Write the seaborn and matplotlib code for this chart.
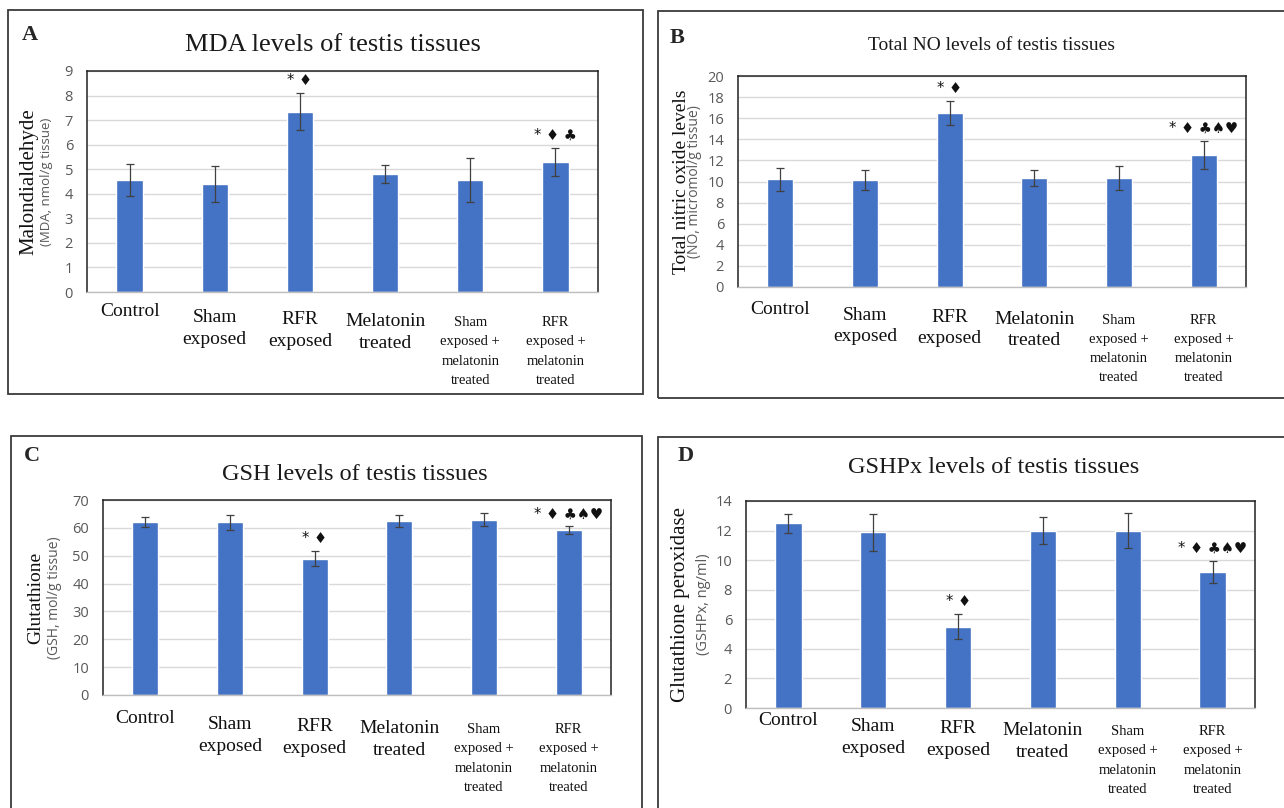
import numpy as np
import pandas as pd
import matplotlib
matplotlib.use("Agg")
import matplotlib.pyplot as plt
import matplotlib.transforms as mtransforms
from matplotlib.patches import Rectangle
import seaborn as sns

# ---------------- data ----------------
groups = ["Control", "Sham\nexposed", "RFR\nexposed", "Melatonin\ntreated",
          "Sham\nexposed +\nmelatonin\ntreated", "RFR\nexposed +\nmelatonin\ntreated"]

mda_mean = [4.55, 4.40, 7.35, 4.80, 4.55, 5.30]
mda_err = [0.65, 0.75, 0.75, 0.38, 0.90, 0.58]
mda_sig = ["", "", "* \u2666", "", "", "* \u2666 \u2663"]

no_mean = [10.2, 10.1, 16.5, 10.3, 10.3, 12.5]
no_err = [1.10, 0.95, 1.10, 0.75, 1.15, 1.35]
no_sig = ["", "", "* \u2666", "", "", "* \u2666 \u2663\u2660\u2665"]

gsh_mean = [62.0, 62.0, 49.0, 62.5, 63.0, 59.2]
gsh_err = [1.8, 2.6, 2.6, 2.2, 2.3, 1.3]
gsh_sig = ["", "", "* \u2666", "", "", "* \u2666 \u2663\u2660\u2665"]

gpx_mean = [12.5, 11.9, 5.5, 12.0, 12.0, 9.2]
gpx_err = [0.65, 1.25, 0.85, 0.90, 1.20, 0.75]
gpx_sig = ["", "", "* \u2666", "", "", "* \u2666 \u2663\u2660\u2665"]

panels = [
    dict(letter="A", title="MDA levels of testis tissues", mean=mda_mean, err=mda_err,
         sig=mda_sig, ymax=9, step=1, ylab1="Malondialdehyde", ylab2="(MDA, nmol/g tissue)"),
    dict(letter="B", title="Total NO levels of testis tissues", mean=no_mean, err=no_err,
         sig=no_sig, ymax=20, step=2, ylab1="Total nitric oxide levels",
         ylab2="(NO, micromol/g tissue)"),
    dict(letter="C", title="GSH levels of testis tissues", mean=gsh_mean, err=gsh_err,
         sig=gsh_sig, ymax=70, step=10, ylab1="Glutathione", ylab2="(GSH, mol/g tissue)"),
    dict(letter="D", title="GSHPx levels of testis tissues", mean=gpx_mean, err=gpx_err,
         sig=gpx_sig, ymax=14, step=2, ylab1="Glutathione peroxidase", ylab2="(GSHPx, ng/ml)"),
]

# ---------------- layout (pixels) ----------------
W, H = 1284, 808
sns.set_theme(style="white")
plt.rcParams["font.family"] = ["DejaVu Sans"]
SERIF = ["Liberation Serif", "DejaVu Serif"]
SANS = ["Open Sans", "DejaVu Sans"]
BLUE = "#4472C4"

fig = plt.figure(figsize=(W / 100, H / 100), dpi=100)
fig.patch.set_facecolor("white")

def fx(x):
    return x / W

def fy(y):
    return 1 - y / H

# axes boxes: left, top, right, bottom (px)
ax_px = [(87, 71, 598, 292), (738, 76, 1246, 287), (103, 500, 611, 695), (746, 501, 1255, 708)]
# panel frames: left, top, right, bottom
frame_px = [(8, 10, 643, 394), (658, 11, 1290, 398), (11, 436, 642, 812), (658, 437, 1290, 812)]
letter_px = [(22, 35), (670, 38), (24, 456), (678, 456)]
title_px = [(333, 45), (992, 45), (355, 474), (994, 468)]
title_fs = [19, 14, 17.5, 17.5]
ylab_x = [(29, 47), (681, 695), (36, 55), (681, 704)]
ylab_fs = [15, 14, 14, 15]
ylab2_fs = [9.5, 10, 10, 10.5]
xpad = [8, 10, 11, 3]
label_shift = [0, 6, 8, 10, 13, 13]

for i, p in enumerate(panels):
    l, t, r, b = frame_px[i]
    fig.patches.append(Rectangle((fx(l), fy(b)), fx(r - l), (b - t) / H, transform=fig.transFigure,
                                 fill=False, edgecolor="#3a3a3a", linewidth=1.3, zorder=0))
    fig.text(fx(letter_px[i][0]), fy(letter_px[i][1]), p["letter"], family=SERIF,
             fontsize=16, fontweight="bold", ha="left", va="center")
    fig.text(fx(title_px[i][0]), fy(title_px[i][1]), p["title"], family=SERIF,
             fontsize=title_fs[i], ha="center", va="center", color="#1a1a1a")

    al, at, ar, ab = ax_px[i]
    ax = fig.add_axes([fx(al), fy(ab), fx(ar - al), (ab - at) / H])
    df = pd.DataFrame({"group": groups, "value": p["mean"]})
    sns.barplot(data=df, x="group", y="value", color=BLUE, saturation=1, width=0.31,
                errorbar=None, ax=ax, zorder=2)
    xs = np.arange(len(groups))
    ax.errorbar(xs, p["mean"], yerr=p["err"], fmt="none", ecolor="#404040",
                elinewidth=0.9, capsize=3, capthick=0.9, zorder=3)
    for xi, m, e, s in zip(xs, p["mean"], p["err"], p["sig"]):
        if s:
            ax.annotate(s, xy=(xi, m + e), xytext=(0, 9), textcoords="offset points",
                        ha="center", va="center", fontsize=10.5, color="#111111",
                        family=["DejaVu Sans"], zorder=4)

    ax.set_ylim(0, p["ymax"])
    ax.set_xlim(-0.5, len(groups) - 0.5)
    ax.set_yticks(np.arange(0, p["ymax"] + 0.001, p["step"]))
    ax.yaxis.grid(True, color="#d9d9d9", linewidth=1.0, zorder=0)
    ax.set_axisbelow(True)
    for sp in ["top", "right", "left"]:
        ax.spines[sp].set_color("#222222")
        ax.spines[sp].set_linewidth(1.1)
    ax.spines["bottom"].set_color("#bfbfbf")
    ax.spines["bottom"].set_linewidth(1.0)
    ax.tick_params(axis="y", labelsize=10.5, labelcolor="#595959", length=0, pad=10)
    ax.tick_params(axis="x", length=0, pad=xpad[i])
    for lab in ax.get_yticklabels():
        lab.set_family(SANS)
    ax.set_xlabel("")
    ax.set_ylabel("")
    ax.set_xticks(xs)
    ax.set_xticklabels(groups)
    for k, lab in enumerate(ax.get_xticklabels()):
        lab.set_family(SERIF)
        lab.set_color("#111111")
        if k < 4:
            lab.set_fontsize(14)
            lab.set_linespacing(1.34)
        else:
            lab.set_fontsize(10.5)
            lab.set_linespacing(1.62)
        off = mtransforms.ScaledTranslation(0, -label_shift[k] / 100, fig.dpi_scale_trans)
        lab.set_transform(lab.get_transform() + off)

    ymid = fy((at + ab) / 2)
    fig.text(fx(ylab_x[i][0]), ymid, p["ylab1"], family=SERIF, fontsize=ylab_fs[i],
             rotation=90, ha="center", va="center", color="#111111")
    fig.text(fx(ylab_x[i][1]), ymid, p["ylab2"], family=SANS, fontsize=ylab2_fs[i],
             rotation=90, ha="center", va="center", color="#595959")

fig.savefig("out.png", dpi=100, facecolor="white")
